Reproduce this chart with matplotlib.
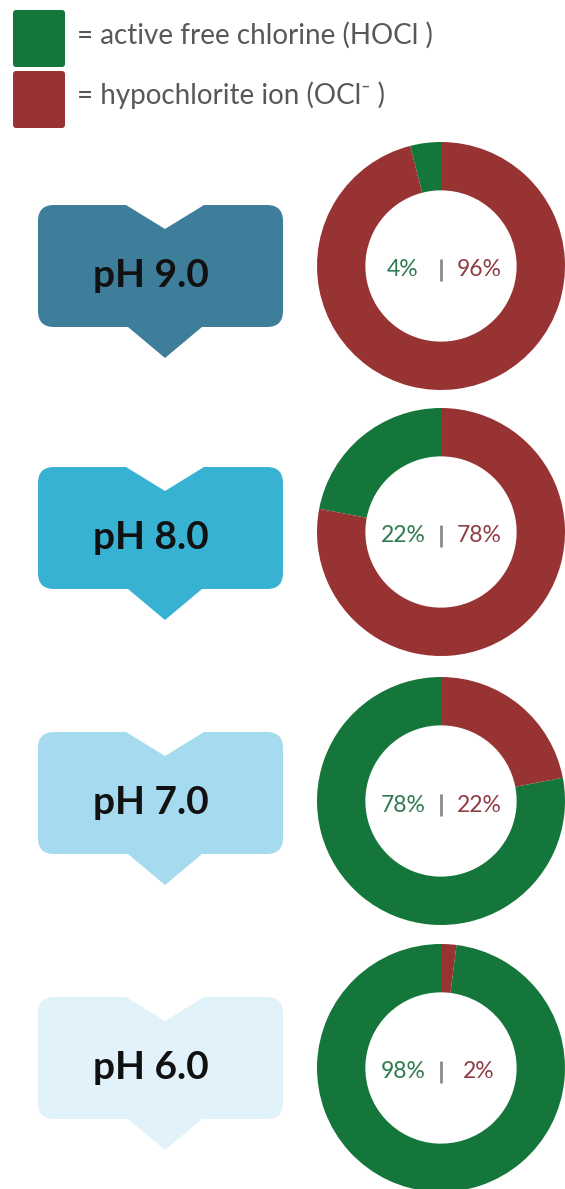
import numpy as np
import matplotlib.pyplot as plt
from matplotlib.path import Path
from matplotlib.patches import PathPatch, FancyBboxPatch

plt.rcParams['font.family'] = ['Lato', 'DejaVu Sans']

# share of free chlorine at each pH
ph_labels = ['pH 9.0', 'pH 8.0', 'pH 7.0', 'pH 6.0']
hocl_pct = [4, 22, 78, 98]
ocl_pct = [96, 78, 22, 2]
badge_colors = ['#3F7E9A', '#38B2D3', '#A6DAEF', '#E1F2FA']

legend_labels = ['= active free chlorine (HOCl )', '= hypochlorite ion (OCl\u207b )']

GREEN = '#15763B'
RED = '#983334'
GREEN_TXT = '#2F7A50'
RED_TXT = '#8E3D44'

W, H = 565, 1189
fig = plt.figure(figsize=(W / 100, H / 100), dpi=100)
ax = fig.add_axes([0, 0, 1, 1])


def py(y):
    # layout is worked out in pixels from the top edge
    return H - y


def badge(top, color):
    x0, x1 = 38, 283
    bottom = top + 122
    cx = 165
    nw, nd = 39, 24
    tw, td = 37, 31
    r = 16
    pts = [
        ((x0 + r, top), Path.MOVETO),
        ((cx - nw, top), Path.LINETO),
        ((cx, top + nd), Path.LINETO),
        ((cx + nw, top), Path.LINETO),
        ((x1 - r, top), Path.LINETO),
        ((x1, top), Path.CURVE3), ((x1, top + r), Path.CURVE3),
        ((x1, bottom - r), Path.LINETO),
        ((x1, bottom), Path.CURVE3), ((x1 - r, bottom), Path.CURVE3),
        ((cx + tw, bottom), Path.LINETO),
        ((cx, bottom + td), Path.LINETO),
        ((cx - tw, bottom), Path.LINETO),
        ((x0 + r, bottom), Path.LINETO),
        ((x0, bottom), Path.CURVE3), ((x0, bottom - r), Path.CURVE3),
        ((x0, top + r), Path.LINETO),
        ((x0, top), Path.CURVE3), ((x0 + r, top), Path.CURVE3),
        ((x0 + r, top), Path.CLOSEPOLY),
    ]
    verts = [(x, py(y)) for (x, y), _ in pts]
    codes = [c for _, c in pts]
    ax.add_patch(PathPatch(Path(verts, codes), facecolor=color, edgecolor='none'))


# legend swatches
for i, (lab, col) in enumerate(zip(legend_labels, [GREEN, RED])):
    top = 10 + i * 61
    ax.add_patch(FancyBboxPatch((13, py(top + 57)), 52, 57,
                                boxstyle='round,pad=0,rounding_size=3',
                                facecolor=col, edgecolor='none'))
    ax.text(77, py(44 + i * 60), lab, fontsize=20, color='#585858',
            ha='left', va='baseline')

badge_tops = [205, 467, 732, 997]
donut_y = [266, 532, 801, 1068]
cx_d = 441
R = 124

for k in range(len(ph_labels)):
    badge(badge_tops[k], badge_colors[k])
    ax.text(151, py(badge_tops[k] + 82), ph_labels[k], fontsize=28,
            fontweight='bold', color='#111111', ha='center', va='baseline')

    ax.pie([hocl_pct[k], ocl_pct[k]], colors=[GREEN, RED], startangle=90,
           counterclock=True, center=(cx_d, py(donut_y[k])), radius=R,
           wedgeprops=dict(width=R * 0.39, linewidth=0))

    yc = py(donut_y[k] + 4)
    ax.text(cx_d - 38, yc, f'{hocl_pct[k]}%', fontsize=16.5, color=GREEN_TXT,
            ha='center', va='center')
    ax.text(cx_d + 38, yc, f'{ocl_pct[k]}%', fontsize=16.5, color=RED_TXT,
            ha='center', va='center')
    ax.plot([cx_d, cx_d], [yc - 11, yc + 11], color='#8a8a8a', lw=2,
            solid_capstyle='butt')

ax.set_xlim(0, W)
ax.set_ylim(0, H)
ax.set_aspect('equal')
ax.axis('off')

fig.savefig('out.png', dpi=100, facecolor='white')
